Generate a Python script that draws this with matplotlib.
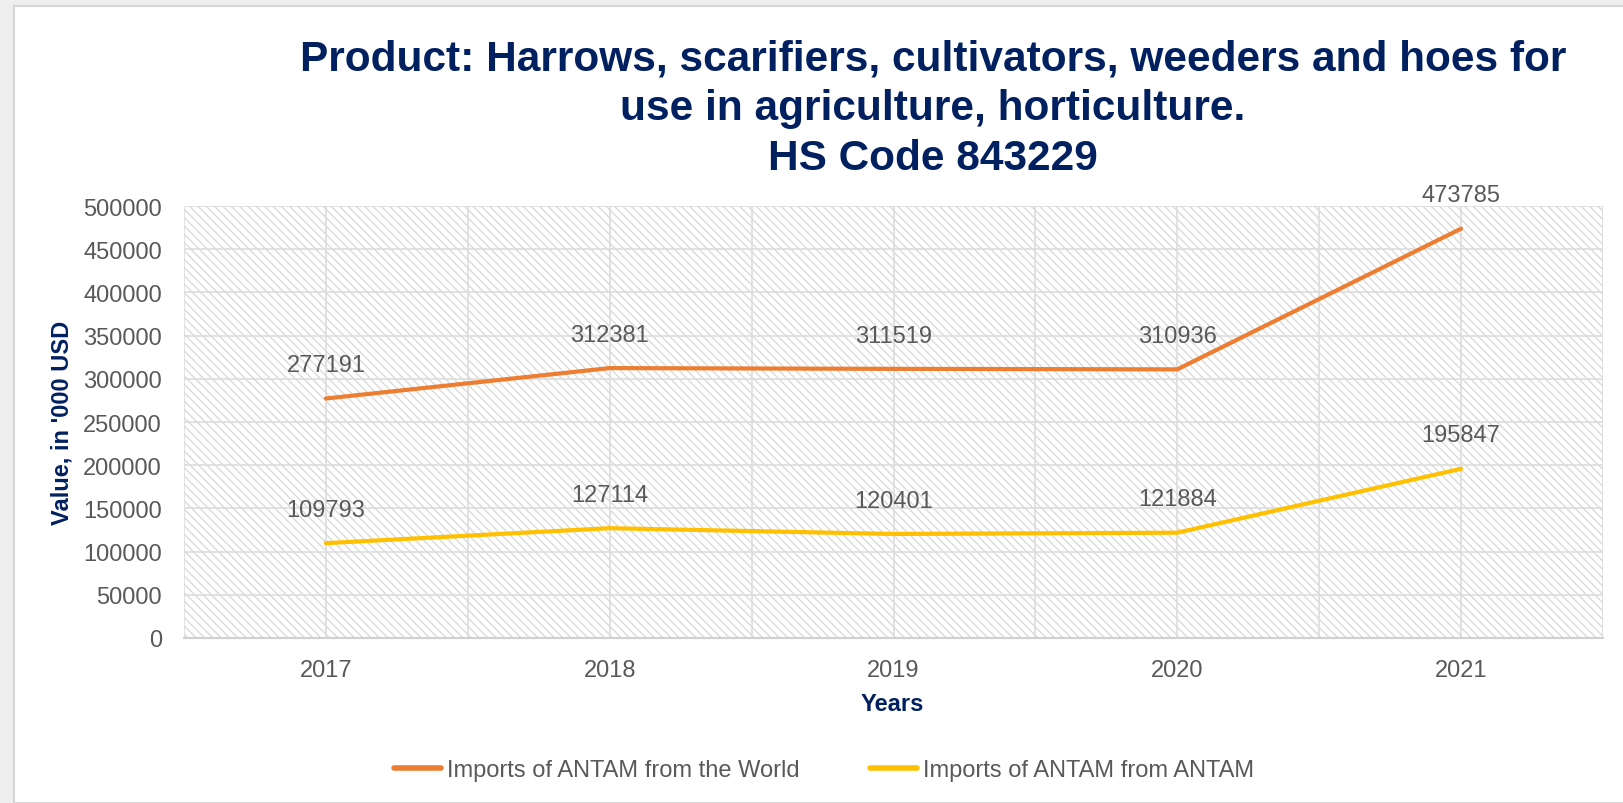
import matplotlib
matplotlib.use("Agg")
import matplotlib.pyplot as plt
from matplotlib.patches import Rectangle

plt.rcParams['font.family'] = ['Liberation Sans', 'DejaVu Sans']

years = ["2017", "2018", "2019", "2020", "2021"]
world = [277191, 312381, 311519, 310936, 473785]
antam = [109793, 127114, 120401, 121884, 195847]
series_names = ["Imports of ANTAM from the World", "Imports of ANTAM from ANTAM"]
y_ticks = [0, 50000, 100000, 150000, 200000, 250000, 300000, 350000, 400000, 450000, 500000]

W, H = 1623, 804
navy = '#002060'
grey_txt = '#595959'

fig = plt.figure(figsize=(W / 100, H / 100), dpi=100)
fig.patch.set_facecolor('#EEEEEE')

# white card on the grey page
card = Rectangle((14 / W, 0), 1, 1 - 7 / H, transform=fig.transFigure,
                 facecolor='white', edgecolor='#D6D6D6', lw=1.5, zorder=-5)
fig.patches.append(card)

ax = fig.add_axes([184 / W, 1 - 639 / H, (1603 - 184) / W, (639 - 207) / H])
ax.set_facecolor('none')

# hatched plot area
ax.add_patch(Rectangle((0, 0), 1, 1, transform=ax.transAxes, facecolor='white',
                       edgecolor='#DADADA', hatch='\\\\\\\\', lw=0, zorder=0))

x = list(range(len(years)))
ax.plot(x, world, color='#ED7D31', lw=3, solid_capstyle='round', zorder=3, label=series_names[0])
ax.plot(x, antam, color='#FFC000', lw=3, solid_capstyle='round', zorder=3, label=series_names[1])

for xi, v in zip(x, world):
    ax.annotate(str(v), (xi, v), xytext=(0, 24), textcoords='offset points',
                ha='center', va='center', fontsize=17, color=grey_txt)
for xi, v in zip(x, antam):
    ax.annotate(str(v), (xi, v), xytext=(0, 24), textcoords='offset points',
                ha='center', va='center', fontsize=17, color=grey_txt)

ax.set_xlim(-0.5, len(years) - 0.5)
ax.set_ylim(0, 500000)
ax.set_xticks(x)
ax.set_xticklabels(years)
ax.set_xticks([i - 0.5 for i in range(len(years) + 1)], minor=True)
ax.set_yticks(y_ticks)
ax.set_yticklabels([str(t) for t in y_ticks])

ax.grid(True, which='both', axis='x', color='#DDDDDD', lw=1.2, zorder=1)
ax.grid(True, which='major', axis='y', color='#DDDDDD', lw=1.2, zorder=1)
ax.set_axisbelow(True)

ax.tick_params(which='both', length=0)
ax.tick_params(axis='y', labelsize=17, labelcolor=grey_txt, pad=16)
ax.tick_params(axis='x', labelsize=17, labelcolor=grey_txt, pad=15)

for s in ['top', 'right', 'left']:
    ax.spines[s].set_visible(False)
ax.spines['bottom'].set_color('#D0D0D0')
ax.spines['bottom'].set_linewidth(1.5)

# titles
fig.text(933 / W, 1 - 109 / H,
         "Product: Harrows, scarifiers, cultivators, weeders and hoes for\n"
         "use in agriculture, horticulture.\nHS Code 843229",
         ha='center', va='center', fontsize=30.5, fontweight='bold', color=navy,
         linespacing=1.32)
fig.text(62 / W, 1 - 423 / H, "Value, in '000 USD", rotation=90, ha='center', va='center',
         fontsize=17, fontweight='bold', color=navy)
fig.text(892 / W, 1 - 705 / H, "Years", ha='center', va='center',
         fontsize=17, fontweight='bold', color=navy)

leg = fig.legend(loc='center', bbox_to_anchor=(824 / W, 1 - 771 / H), ncol=2, frameon=False,
                 fontsize=17, labelcolor=grey_txt, handlelength=2.0, handletextpad=0.25,
                 columnspacing=3.0)
for h in leg.legend_handles:
    h.set_linewidth(4)

fig.savefig('out.png', dpi=100, facecolor=fig.get_facecolor())
